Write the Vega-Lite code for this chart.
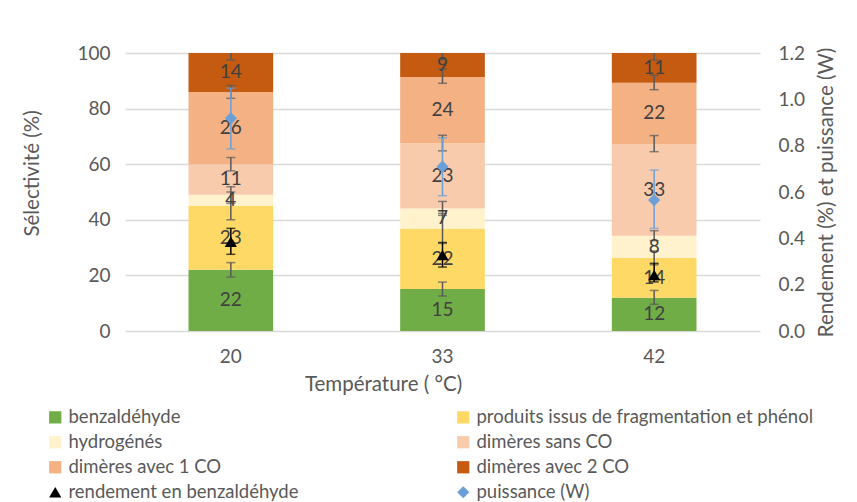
{
  "$schema": "https://vega.github.io/schema/vega-lite/v6.json",
  "width": 635,
  "height": 278,
  "autosize": {"type": "none"},
  "padding": {"left": 125, "top": 53, "right": 97, "bottom": 171},
  "background": "white",
  "config": {
    "font": "Lato",
    "view": {"stroke": null},
    "axis": {
      "labelFont": "Lato", "titleFont": "Lato",
      "labelColor": "#595959", "titleColor": "#595959",
      "titleFontWeight": "normal", "labelFontSize": 19, "titleFontSize": 20.5,
      "ticks": false, "domain": false
    },
    "legend": {
      "labelFont": "Lato", "labelFontSize": 18.5, "labelColor": "#595959",
      "symbolSize": 150, "symbolStrokeWidth": 0, "labelLimit": 0,
      "rowPadding": 6, "columnPadding": 155, "labelOffset": 4, "padding": 0
    }
  },
  "datasets": {
    "seg": [
      {"temp": "20", "series": "benzaldéhyde", "k": 1, "value": 22},
      {"temp": "20", "series": "produits issus de fragmentation et phénol", "k": 2, "value": 23},
      {"temp": "20", "series": "hydrogénés", "k": 3, "value": 4},
      {"temp": "20", "series": "dimères sans CO", "k": 4, "value": 11},
      {"temp": "20", "series": "dimères avec 1 CO", "k": 5, "value": 26},
      {"temp": "20", "series": "dimères avec 2 CO", "k": 6, "value": 14},
      {"temp": "33", "series": "benzaldéhyde", "k": 1, "value": 15.1},
      {"temp": "33", "series": "produits issus de fragmentation et phénol", "k": 2, "value": 21.8},
      {"temp": "33", "series": "hydrogénés", "k": 3, "value": 7.2},
      {"temp": "33", "series": "dimères sans CO", "k": 4, "value": 23.4},
      {"temp": "33", "series": "dimères avec 1 CO", "k": 5, "value": 23.9},
      {"temp": "33", "series": "dimères avec 2 CO", "k": 6, "value": 8.6},
      {"temp": "42", "series": "benzaldéhyde", "k": 1, "value": 12},
      {"temp": "42", "series": "produits issus de fragmentation et phénol", "k": 2, "value": 14.3},
      {"temp": "42", "series": "hydrogénés", "k": 3, "value": 8},
      {"temp": "42", "series": "dimères sans CO", "k": 4, "value": 33},
      {"temp": "42", "series": "dimères avec 1 CO", "k": 5, "value": 22},
      {"temp": "42", "series": "dimères avec 2 CO", "k": 6, "value": 10.7}
    ],
    "segerr": [
      {"temp": "20", "lo": 19.4, "hi": 24.6},
      {"temp": "20", "lo": 40, "hi": 50},
      {"temp": "20", "lo": 45.9, "hi": 51.9},
      {"temp": "20", "lo": 57.6, "hi": 62.4},
      {"temp": "20", "lo": 83.7, "hi": 88.3},
      {"temp": "20", "lo": 97.5, "hi": 102.5},
      {"temp": "33", "lo": 12.6, "hi": 17.6},
      {"temp": "33", "lo": 31.5, "hi": 42.3},
      {"temp": "33", "lo": 41.6, "hi": 46.6},
      {"temp": "33", "lo": 64.8, "hi": 70.4},
      {"temp": "33", "lo": 89.1, "hi": 94.2},
      {"temp": "33", "lo": 97.5, "hi": 102.5},
      {"temp": "42", "lo": 9.6, "hi": 14.6},
      {"temp": "42", "lo": 23.8, "hi": 28.8},
      {"temp": "42", "lo": 32.5, "hi": 36.1},
      {"temp": "42", "lo": 64.5, "hi": 70.3},
      {"temp": "42", "lo": 86.8, "hi": 92},
      {"temp": "42", "lo": 97.5, "hi": 102.5}
    ],
    "pts": [
      {"temp": "20", "series": "rendement en benzaldéhyde", "val": 0.385, "lo": 0.331, "hi": 0.443},
      {"temp": "33", "series": "rendement en benzaldéhyde", "val": 0.328, "lo": 0.276, "hi": 0.382},
      {"temp": "42", "series": "rendement en benzaldéhyde", "val": 0.242, "lo": 0.212, "hi": 0.292},
      {"temp": "20", "series": "puissance (W)", "val": 0.918, "lo": 0.786, "hi": 1.048},
      {"temp": "33", "series": "puissance (W)", "val": 0.709, "lo": 0.584, "hi": 0.834},
      {"temp": "42", "series": "puissance (W)", "val": 0.565, "lo": 0.443, "hi": 0.695}
    ]
  },
  "encoding": {
    "x": {
      "field": "temp", "type": "nominal", "sort": ["20", "33", "42"],
      "scale": {"paddingInner": 0.6, "paddingOuter": 0.3},
      "axis": {"labelAngle": 0, "labelPadding": 16, "title": "Température ( °C)", "titlePadding": 8, "titleX": 258}
    }
  },
  "layer": [
    {
      "layer": [
        {
          "data": {"name": "seg"},
          "mark": {"type": "bar"},
          "encoding": {
            "y": {"field": "value", "type": "quantitative", "stack": "zero",
              "scale": {"domain": [0, 100]},
              "axis": {"title": "Sélectivité (%)", "values": [0, 20, 40, 60, 80, 100], "grid": true, "gridColor": "#d9d9d9", "gridWidth": 1.3, "labelPadding": 15, "titlePadding": 34, "titleY": 120}},
            "order": {"field": "k", "type": "quantitative"},
            "color": {
              "field": "series", "type": "nominal",
              "scale": {
                "domain": ["benzaldéhyde", "produits issus de fragmentation et phénol", "hydrogénés", "dimères sans CO", "dimères avec 1 CO", "dimères avec 2 CO", "rendement en benzaldéhyde", "puissance (W)"],
                "range": ["#70AD47", "#FFD966", "#FFF2CC", "#F8CBAD", "#F4B183", "#C55A11", "#000000", "#6A9FD8"]
              },
              "legend": {"title": null, "orient": "none", "legendX": -79, "legendY": 355, "columns": 2, "direction": "horizontal"}
            }
          }
        },
        {
          "data": {"name": "segerr"},
          "mark": {"type": "rule", "color": "#595959", "strokeWidth": 1.5, "clip": true},
          "encoding": {
            "y": {"field": "lo", "type": "quantitative", "title": "Sélectivité (%)"},
            "y2": {"field": "hi"}
          }
        },
        {
          "data": {"name": "segerr"},
          "mark": {"type": "tick", "color": "#595959", "size": 9, "thickness": 1.5, "clip": true},
          "encoding": {"y": {"field": "lo", "type": "quantitative", "title": "Sélectivité (%)"}}
        },
        {
          "data": {"name": "segerr"},
          "mark": {"type": "tick", "color": "#595959", "size": 9, "thickness": 1.5, "clip": true},
          "encoding": {"y": {"field": "hi", "type": "quantitative", "title": "Sélectivité (%)"}}
        },
        {
          "data": {"name": "seg"},
          "transform": [
            {"stack": "value", "groupby": ["temp"], "sort": [{"field": "k", "order": "ascending"}], "as": ["y0", "y1"]},
            {"fold": ["y0", "y1"], "as": ["fk", "fv"]},
            {"aggregate": [{"op": "mean", "field": "fv", "as": "mid"}, {"op": "max", "field": "value", "as": "v"}], "groupby": ["temp", "series"]}
          ],
          "mark": {"type": "text", "fontSize": 19, "color": "#404040", "baseline": "middle", "font": "Lato"},
          "encoding": {
            "y": {"field": "mid", "type": "quantitative", "title": "Sélectivité (%)"},
            "text": {"field": "v", "type": "quantitative", "format": ".0f"}
          }
        }
      ]
    },
    {
      "layer": [
        {
          "data": {"name": "pts"},
          "mark": {"type": "rule", "strokeWidth": 1.5},
          "encoding": {
            "y": {"field": "lo", "type": "quantitative", "scale": {"domain": [0, 1.2]},
              "axis": {"orient": "right", "title": "Rendement (%) et puissance (W)", "titleAngle": 270, "titleBaseline": "top", "format": ".1f", "values": [0, 0.2, 0.4, 0.6, 0.8, 1.0, 1.2], "grid": false, "labelPadding": 18, "titlePadding": 12}},
            "y2": {"field": "hi"},
            "color": {"field": "series", "type": "nominal", "legend": null}
          }
        },
        {
          "data": {"name": "pts"},
          "mark": {"type": "tick", "size": 9, "thickness": 1.5},
          "encoding": {
            "y": {"field": "lo", "type": "quantitative", "title": "Rendement (%) et puissance (W)"},
            "color": {"field": "series", "type": "nominal", "legend": null}
          }
        },
        {
          "data": {"name": "pts"},
          "mark": {"type": "tick", "size": 9, "thickness": 1.5},
          "encoding": {
            "y": {"field": "hi", "type": "quantitative", "title": "Rendement (%) et puissance (W)"},
            "color": {"field": "series", "type": "nominal", "legend": null}
          }
        },
        {
          "data": {"name": "pts"},
          "mark": {"type": "point", "filled": true, "opacity": 1, "size": 150},
          "encoding": {
            "y": {"field": "val", "type": "quantitative", "title": "Rendement (%) et puissance (W)"},
            "color": {"field": "series", "type": "nominal",
              "legend": {"title": null, "orient": "none", "legendX": -79, "legendY": 355, "columns": 2, "direction": "horizontal"}},
            "shape": {
              "field": "series", "type": "nominal",
              "scale": {
                "domain": ["benzaldéhyde", "produits issus de fragmentation et phénol", "hydrogénés", "dimères sans CO", "dimères avec 1 CO", "dimères avec 2 CO", "rendement en benzaldéhyde", "puissance (W)"],
                "range": ["square", "square", "square", "square", "square", "square", "triangle-up", "diamond"]
              },
              "legend": {"title": null, "orient": "none", "legendX": -79, "legendY": 355, "columns": 2, "direction": "horizontal"}
            }
          }
        }
      ]
    }
  ],
  "resolve": {"scale": {"y": "independent"}}
}
